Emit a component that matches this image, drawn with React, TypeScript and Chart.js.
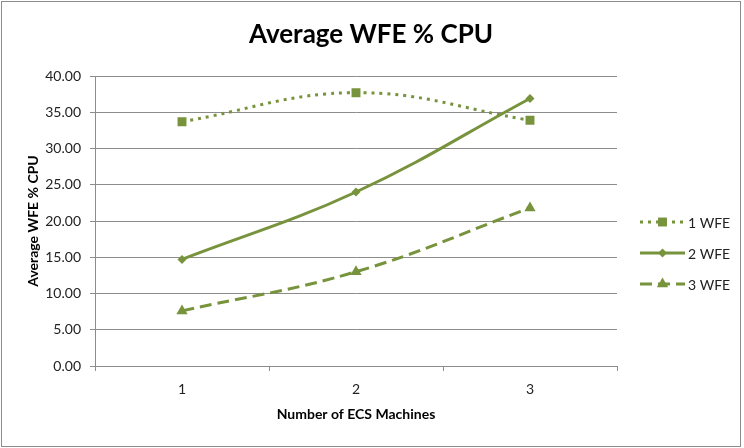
import React, { useEffect, useRef } from 'react';
import { Chart, registerables } from 'chart.js';

Chart.register(...registerables);

const categories = ['1', '2', '3'];
const wfe1 = [33.7, 37.7, 33.9];
const wfe2 = [14.7, 24.0, 36.9];
const wfe3 = [7.6, 13.0, 21.8];
const seriesLabels = ['1 WFE', '2 WFE', '3 WFE'];
const chartTitle = 'Average WFE % CPU';
const xTitle = 'Number of ECS Machines';
const yTitle = 'Average WFE % CPU';

const GREEN = '#77933C';
const GRID = '#8C8C8C';
const FONT = 'Lato, "Open Sans", sans-serif';

function drawMarker(ctx: CanvasRenderingContext2D, style: string, x: number, y: number, r: number) {
  ctx.beginPath();
  if (style === 'rect') {
    const s = Math.SQRT1_2 * r;
    ctx.rect(x - s, y - s, 2 * s, 2 * s);
  } else if (style === 'rectRot') {
    ctx.moveTo(x, y - r);
    ctx.lineTo(x + r, y);
    ctx.lineTo(x, y + r);
    ctx.lineTo(x - r, y);
    ctx.closePath();
  } else {
    ctx.moveTo(x, y - r);
    ctx.lineTo(x + r * 0.866, y + r * 0.5);
    ctx.lineTo(x - r * 0.866, y + r * 0.5);
    ctx.closePath();
  }
  ctx.fill();
}

const decorPlugin = {
  id: 'decor',
  afterDraw(chart: any) {
    const ctx: CanvasRenderingContext2D = chart.ctx;
    ctx.save();
    ctx.strokeStyle = '#8C8C8C';
    ctx.lineWidth = 1;
    ctx.setLineDash([]);
    ctx.strokeRect(1.5, 1.5, 739, 445);
    ctx.fillStyle = '#000';
    ctx.font = `bold 26px ${FONT}`;
    ctx.textAlign = 'center';
    ctx.textBaseline = 'alphabetic';
    ctx.fillText(chartTitle, 371, 43);
    chart.data.datasets.forEach((ds: any, i: number) => {
      const y = 222 + i * 31;
      ctx.strokeStyle = ds.borderColor;
      ctx.lineWidth = ds.borderWidth;
      ctx.lineCap = 'butt';
      ctx.setLineDash(ds.borderDash || []);
      ctx.beginPath();
      ctx.moveTo(640, y);
      ctx.lineTo(685, y);
      ctx.stroke();
      ctx.setLineDash([]);
      ctx.fillStyle = ds.pointBackgroundColor;
      drawMarker(ctx, ds.pointStyle, 662.5, y, ds.pointRadius);
      ctx.fillStyle = '#222';
      ctx.font = `14px ${FONT}`;
      ctx.textAlign = 'left';
      ctx.textBaseline = 'middle';
      ctx.fillText(ds.label, 688, y + 1);
    });
    ctx.restore();
  },
};

export default function App() {
  const ref = useRef<HTMLCanvasElement>(null);
  useEffect(() => {
    document.body.style.margin = '0';
    const canvas = ref.current!;
    const common = {
      borderColor: GREEN,
      backgroundColor: GREEN,
      pointBackgroundColor: GREEN,
      pointBorderColor: GREEN,
      pointBorderWidth: 0,
      borderWidth: 3,
      tension: 0.4,
    };
    const chart = new Chart(canvas, {
      type: 'line',
      data: {
        labels: categories,
        datasets: [
          { ...common, label: seriesLabels[0], data: wfe1, borderDash: [3, 5], pointStyle: 'rect', pointRadius: 6.3 },
          { ...common, label: seriesLabels[1], data: wfe2, borderDash: [], pointStyle: 'rectRot', pointRadius: 4.5 },
          { ...common, label: seriesLabels[2], data: wfe3, borderDash: [12, 6], pointStyle: 'triangle', pointRadius: 6.5 },
        ] as any,
      },
      options: {
        animation: false,
        responsive: false,
        layout: { padding: { top: 76, right: 127, left: 0, bottom: 0 } },
        plugins: {
          legend: { display: false },
          title: { display: false },
          tooltip: { enabled: false },
        },
        scales: {
          x: {
            offset: true,
            grid: {
              offset: true,
              drawOnChartArea: false,
              drawTicks: true,
              tickLength: 5,
              color: GRID,
            },
            border: { color: GRID },
            ticks: { color: '#222', font: { family: FONT, size: 14 }, padding: 10 },
            title: {
              display: true,
              text: xTitle,
              color: '#000',
              font: { family: FONT, size: 14, weight: 'bold' },
              padding: { top: 0, bottom: 25 },
            },
            afterFit(scale: any) {
              scale.height = 82;
            },
          },
          y: {
            min: 0,
            max: 40,
            ticks: {
              stepSize: 5,
              color: '#222',
              font: { family: FONT, size: 14 },
              padding: 9,
              callback: (v: any) => Number(v).toFixed(2),
            },
            grid: { color: GRID, tickLength: 5, drawTicks: true },
            border: { color: GRID },
            title: {
              display: true,
              text: yTitle,
              color: '#000',
              font: { family: FONT, size: 14, weight: 'bold' },
              padding: { top: 25, bottom: 0 },
            },
            afterFit(scale: any) {
              scale.width = 95;
            },
          },
        },
      } as any,
      plugins: [decorPlugin],
    });
    return () => chart.destroy();
  }, []);
  return (
    <div style={{ width: 744, height: 448, background: '#fff' }}>
      <canvas ref={ref} width={744} height={448} style={{ display: 'block' }} />
    </div>
  );
}
